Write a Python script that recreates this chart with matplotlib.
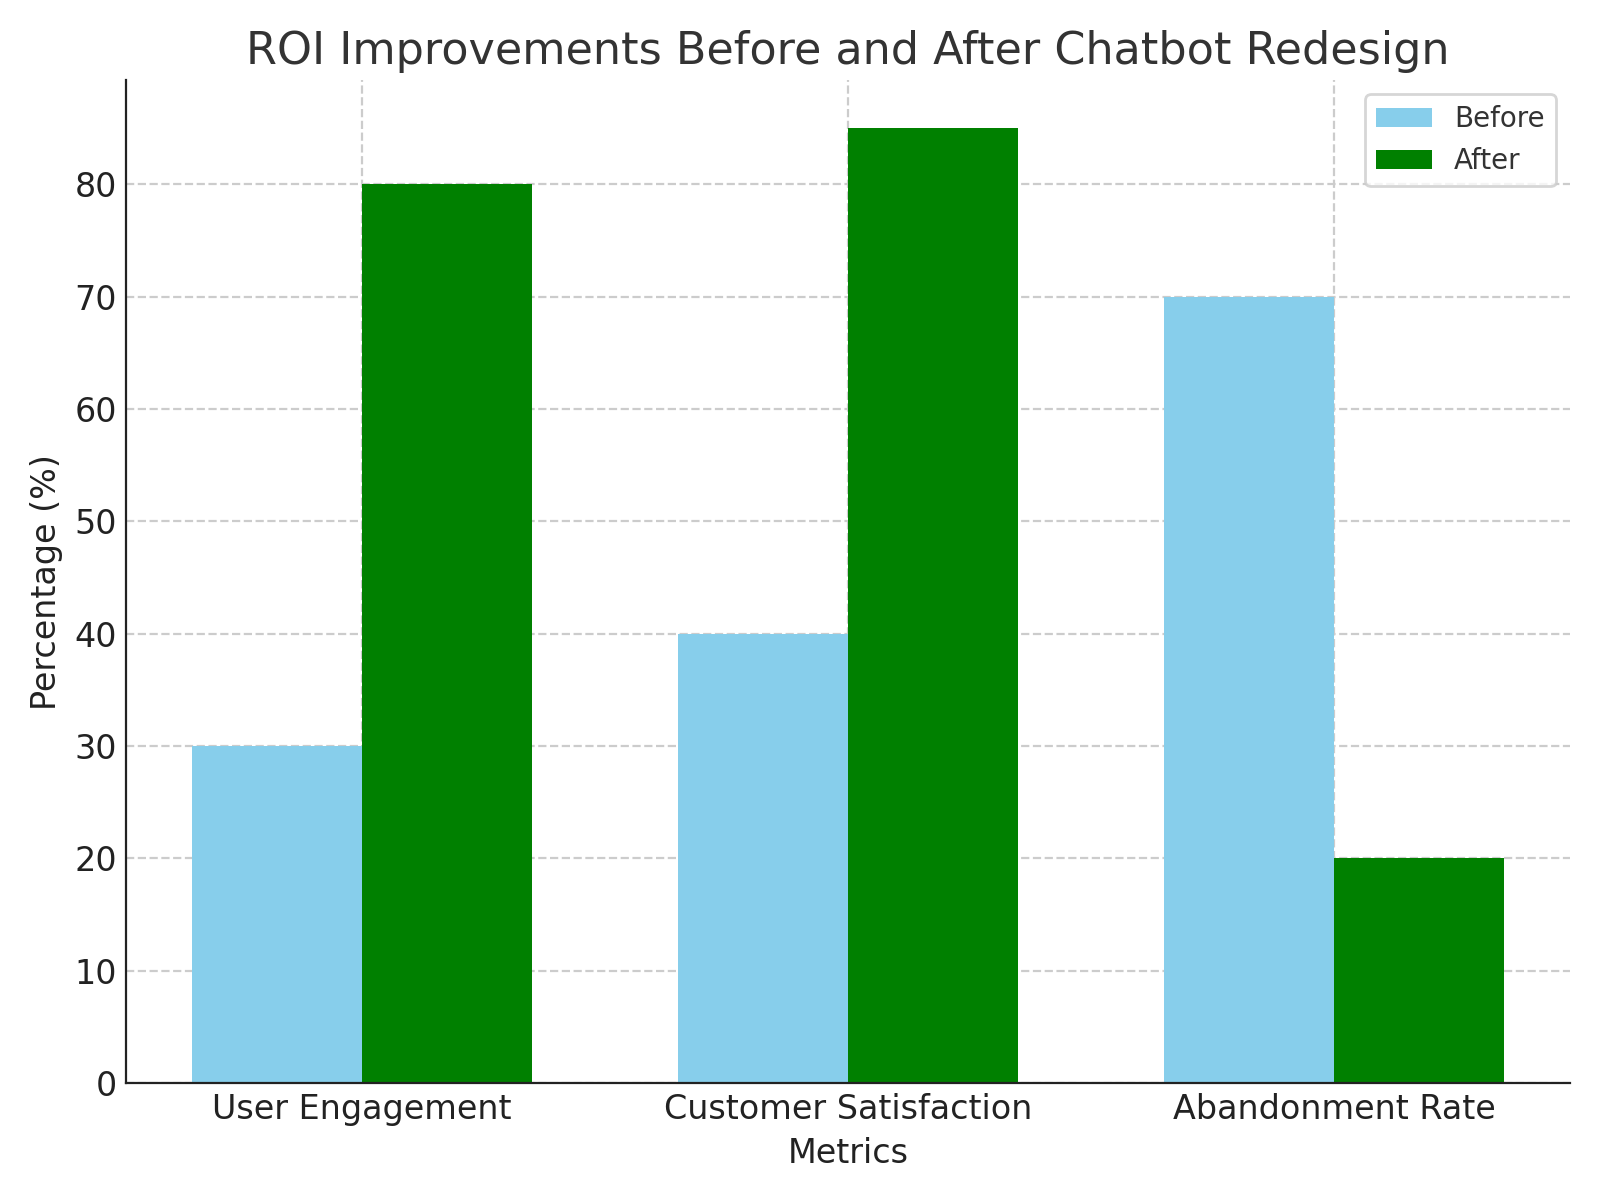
import numpy as np
import matplotlib
matplotlib.use('Agg')
import matplotlib.pyplot as plt

metrics = ['User Engagement', 'Customer Satisfaction', 'Abandonment Rate']
before = [30, 40, 70]
after = [80, 85, 20]

x = np.arange(len(metrics))
width = 0.35

fig, ax = plt.subplots(figsize=(8, 6), dpi=200)
fig.subplots_adjust(left=0.079, right=0.981, top=0.933, bottom=0.0975)

ax.bar(x - width / 2, before, width, label='Before', color='skyblue')
ax.bar(x + width / 2, after, width, label='After', color='green')

ax.set_title('ROI Improvements Before and After Chatbot Redesign', fontsize=16, color='#333333')
ax.set_xlabel('Metrics', fontsize=12, color='#222222')
ax.set_ylabel('Percentage (%)', fontsize=12, color='#222222')
ax.set_xticks(x)
ax.set_xticklabels(metrics, fontsize=12, color='#222222')
ax.tick_params(axis='both', length=0, labelsize=12, labelcolor='#222222')
ax.grid(True, linestyle='--', color='#cccccc', linewidth=0.8)
ax.set_axisbelow(True)
for s in ['top', 'right']:
    ax.spines[s].set_visible(False)
for s in ['left', 'bottom']:
    ax.spines[s].set_color('#222222')

leg = ax.legend(fontsize=10, labelcolor='#333333')
leg.get_frame().set_edgecolor('#cccccc')

plt.savefig('out.png')
